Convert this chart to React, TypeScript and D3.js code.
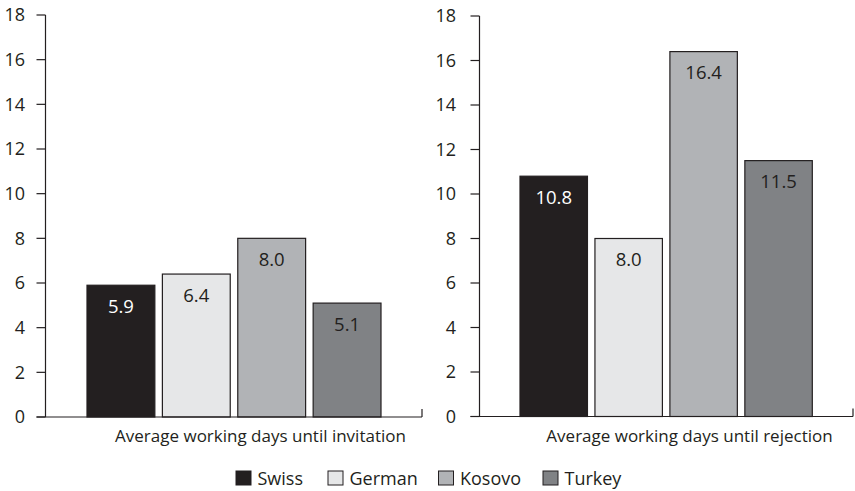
import React from "react";
import * as d3 from "d3";

const categories = ["Swiss", "German", "Kosovo", "Turkey"];
const invitationValues = [5.9, 6.4, 8.0, 5.1];
const rejectionValues = [10.8, 8.0, 16.4, 11.5];
const yTicks = [0, 2, 4, 6, 8, 10, 12, 14, 16, 18];
const panelTitles = ["Average working days until invitation", "Average working days until rejection"];
const colors = ["#231f20", "#e6e7e8", "#b1b3b6", "#808285"];
const labelColors = ["#ffffff", "#231f20", "#231f20", "#231f20"];

const FONT = "'Open Sans', 'Noto Sans', sans-serif";
const AX = "#231f20";

type PanelProps = {
  values: number[];
  title: string;
  axisX: number;
  yTop: number;
  yBottom: number;
  barStart: number;
  barEnd: number;
  axisEnd: number;
  labelGap: number;
  titleX: number;
};

function Panel({ values, title, axisX, yTop, yBottom, barStart, barEnd, axisEnd, labelGap, titleX }: PanelProps) {
  const y = d3.scaleLinear().domain([0, 18]).range([yBottom, yTop]);
  const x = d3.scaleBand<string>().domain(categories).range([barStart, barEnd]).paddingInner(0.1).paddingOuter(0);
  const tickLen = 9;
  return (
    <g>
      {values.map((v, i) => {
        const c = categories[i];
        const bx = x(c)!;
        const bw = x.bandwidth();
        return (
          <g key={c}>
            <rect x={bx} y={y(v)} width={bw} height={y(0) - y(v)} fill={colors[i]} stroke="#231f20" strokeWidth={1.2} />
            <text x={bx + bw / 2} y={y(v) + 21} dy="0.36em" textAnchor="middle" fontFamily={FONT} fontSize={18.5} fill={labelColors[i]}>
              {v.toFixed(1)}
            </text>
          </g>
        );
      })}
      <line x1={axisX} x2={axisX} y1={y(18)} y2={y(0)} stroke={AX} strokeWidth={1.2} />
      {yTicks.map((t) => (
        <g key={t}>
          <line x1={axisX - tickLen} x2={axisX} y1={y(t)} y2={y(t)} stroke={AX} strokeWidth={1.2} />
          <text x={axisX - labelGap} y={y(t)} dy="0.36em" textAnchor="end" fontFamily={FONT} fontSize={18} fill={AX}>
            {t}
          </text>
        </g>
      ))}
      <line x1={axisX - tickLen} x2={axisEnd} y1={y(0)} y2={y(0)} stroke={AX} strokeWidth={1.2} />
      <line x1={axisEnd} x2={axisEnd} y1={y(0) - 8} y2={y(0)} stroke={AX} strokeWidth={1.2} />
      <text x={titleX} y={442} textAnchor="middle" fontFamily={FONT} fontSize={17} fill={AX}>
        {title}
      </text>
    </g>
  );
}

const legendX = [236, 328, 438.5, 543];

export default function App() {
  return (
    <svg width={855} height={491} style={{ position: "absolute", left: 0, top: 0, background: "#fff" }}>
      <Panel values={invitationValues} title={panelTitles[0]} axisX={45.5} yTop={15} yBottom={417} barStart={87} barEnd={381} axisEnd={422} labelGap={20.5} titleX={260.5} />
      <Panel values={rejectionValues} title={panelTitles[1]} axisX={479.5} yTop={16} yBottom={416.5} barStart={520} barEnd={812.3} axisEnd={853} labelGap={23.5} titleX={689.5} />
      {categories.map((c, i) => (
        <g key={c}>
          <rect x={legendX[i]} y={471} width={15} height={14} fill={colors[i]} stroke="#231f20" strokeWidth={1} />
          <text x={legendX[i] + 21.5} y={485} fontFamily={FONT} fontSize={18} fill={AX}>
            {c}
          </text>
        </g>
      ))}
    </svg>
  );
}
